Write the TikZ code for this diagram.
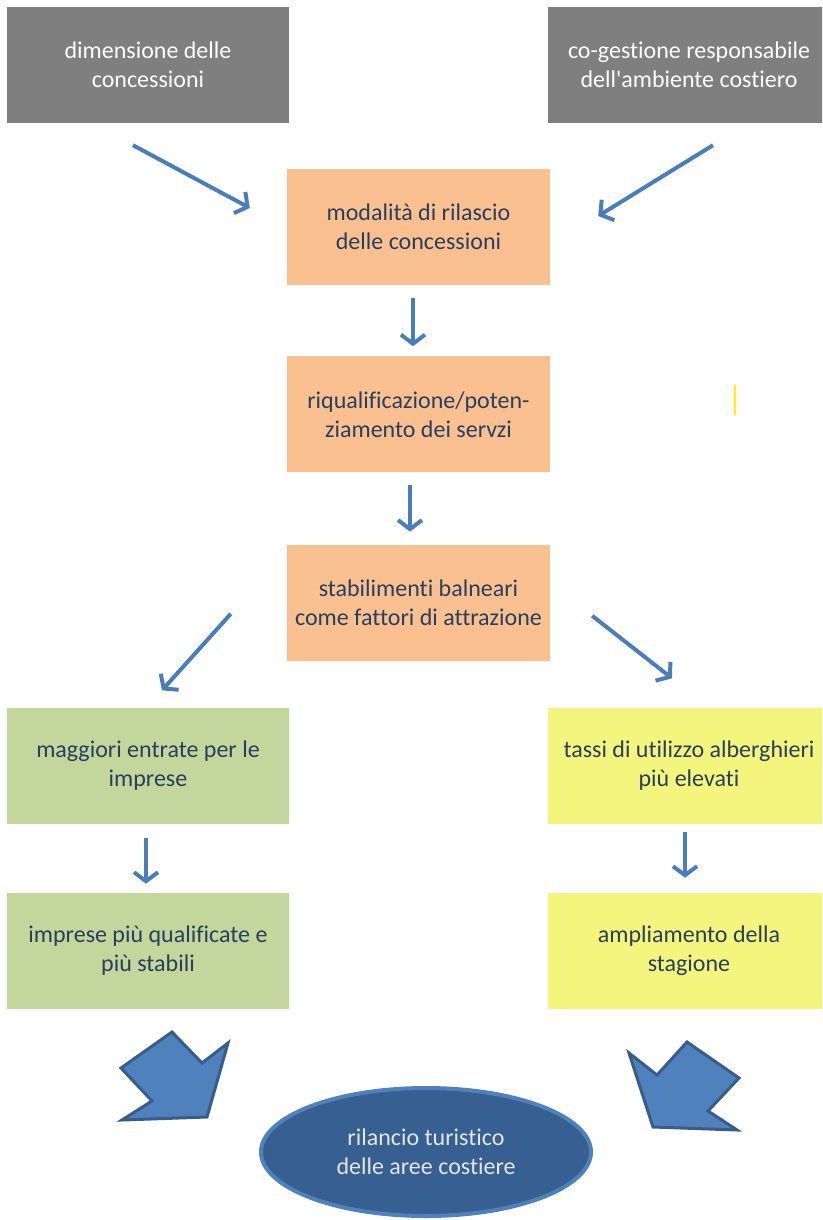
\documentclass[tikz,border=0pt]{standalone}
\usepackage{fontspec}
\setmainfont{Carlito}[Ligatures=NoCommon]
\usetikzlibrary{positioning}
\usetikzlibrary{arrows.meta}
\usetikzlibrary{shapes}
\definecolor{boxgray}{HTML}{7F7F7F}
\definecolor{boxorange}{HTML}{FAC090}
\definecolor{boxgreen}{HTML}{C3D69B}
\definecolor{boxyellow}{HTML}{F3F57D}
\definecolor{txtblue}{HTML}{283F5E}
\definecolor{arrblue}{HTML}{4A7EBB}
\definecolor{bigfill}{HTML}{4F81BD}
\definecolor{bigline}{HTML}{385D8A}
\definecolor{ovalfill}{HTML}{376092}
\tikzset{
b/.style={
  rectangle,
  inner sep=0pt,
  minimum width=282pt,
  minimum height=116pt,
  align=center,
  font=\fontsize{24}{29}\selectfont
  },
gb/.style={b,fill=boxgray,text=white},
ob/.style={b,fill=boxorange,text=txtblue,minimum width=263pt},
grb/.style={b,fill=boxgreen,text=txtblue},
yb/.style={b,fill=boxyellow,text=txtblue},
thinarr/.style={
  arrblue,line width=4pt,
  -{Straight Barb[length=9pt,width=24pt,line width=4pt]}
  },
bigarr/.style={
  fill=bigfill,draw=bigline,line width=3pt,line join=miter
  }
}

\begin{document}
\begin{tikzpicture}[x=1pt,y=-1pt]
  \clip (0,0) rectangle (822,1220);
  \node[gb] (dim) at (148,65) {dimensione delle\\concessioni};
  \node[gb] (cog) at (689,65) {co-gestione responsabile\\dell\textquotesingle ambiente costiero};
  \node[ob] (mod) at (418.5,227) {modalità di rilascio\\delle concessioni};
  \node[ob] (riq) [below=71pt of mod] {riqualificazione/poten-\\ziamento dei servzi};
  \node[ob] (stab) [below=72pt of riq] {stabilimenti balneari\\come fattori di attrazione};
  \node[grb] (entr) at (148,765.5) {maggiori entrate per le\\imprese};
  \node[yb] (tassi) at (689,765.5) {tassi di utilizzo alberghieri\\più elevati};
  \node[grb] (impr) [below=69pt of entr] {imprese più qualificate e\\più stabili};
  \node[yb] (ampl) [below=69pt of tassi] {ampliamento della\\stagione};
  \node[ellipse,fill=ovalfill,draw=bigfill,line width=4pt,
        minimum width=330pt,minimum height=128pt,align=center,
        text=white!90!black,font=\fontsize{24}{29}\selectfont]
        (ril) at (426,1152) {rilancio turistico\\delle aree costiere};
  % thin arrows
  \draw[thinarr] ([shift={(-15,22)}]dim.south) -- ([shift={(-37,-19)}]mod.west);
  \draw[thinarr] ([shift={(24,22)}]cog.south) -- ([shift={(48,-11)}]mod.east);
  \draw[thinarr] ([shift={(-5.5,13)}]mod.south) -- ([shift={(-5.5,-10)}]riq.north);
  \draw[thinarr] ([shift={(-8.5,12)}]riq.south) -- ([shift={(-8.5,-13)}]stab.north);
  \draw[thinarr] ([shift={(-56,11)}]stab.west) -- ([shift={(14,-17)}]entr.north);
  \draw[thinarr] ([shift={(42,13)}]stab.east) -- ([shift={(-17,-29)}]tassi.north);
  \draw[thinarr] ([shift={(-2,14)}]entr.south) -- ([shift={(-2,-9)}]impr.north);
  \draw[thinarr] ([shift={(-4,8)}]tassi.south) -- ([shift={(-4,-15)}]ampl.north);
  % block arrows
  \draw[bigarr] (121,1068) -- (172,1032) -- (202,1063) -- (228,1043)
    -- (207,1117) -- (122,1120) -- (152,1101) -- cycle;
  \draw[bigarr] (629,1053) -- (657,1075) -- (687,1042) -- (739,1078)
    -- (708,1111) -- (737,1130) -- (653,1127) -- cycle;
  % stray mark
  \draw[yellow,line width=2pt] (735,385) -- (735,415);
\end{tikzpicture}
\end{document}
